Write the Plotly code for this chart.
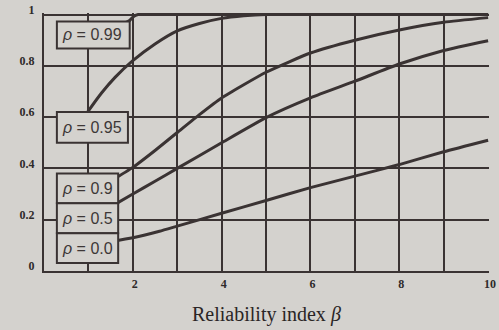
import plotly.graph_objects as go

# ---- data ----
beta_000 = [1.5, 2.0, 2.6, 3.0, 4.0, 5.0, 6.0, 7.0, 8.0, 9.0, 10.0]
rho_000 = [0.115, 0.13, 0.155, 0.175, 0.225, 0.275, 0.325, 0.37, 0.415, 0.465, 0.51]

beta_050 = [1.5, 2.0, 2.5, 3.0, 4.0, 5.0, 6.0, 7.0, 8.0, 9.0, 10.0]
rho_050 = [0.25, 0.30, 0.35, 0.40, 0.50, 0.598, 0.675, 0.74, 0.807, 0.86, 0.898]

beta_090 = [1.5, 2.0, 2.5, 3.0, 3.5, 4.0, 5.0, 6.0, 7.0, 8.0, 9.0, 10.0]
rho_090 = [0.35, 0.404, 0.47, 0.54, 0.61, 0.675, 0.775, 0.85, 0.90, 0.94, 0.97, 0.988]

beta_095 = [0.9, 1.0, 1.3, 1.6, 2.0, 2.5, 3.0, 3.5, 4.0, 4.5, 5.0, 6.0, 8.0, 10.0]
rho_095 = [0.598, 0.624, 0.695, 0.755, 0.82, 0.885, 0.936, 0.965, 0.985, 0.995, 1.0, 1.0, 1.0, 1.0]

beta_099 = [1.8, 1.93, 2.0, 2.12, 3.0, 5.0, 8.0, 10.0]
rho_099 = [0.965, 0.977, 0.99, 1.0, 1.0, 1.0, 1.0, 1.0]

labels = ["\u03c1 = 0.99", "\u03c1 = 0.95", "\u03c1 = 0.9", "\u03c1 = 0.5", "\u03c1 = 0.0"]
box_x0 = [0.29, 0.29, 0.29, 0.29, 0.29]
box_x1 = [1.93, 1.89, 1.67, 1.67, 1.67]
box_y0 = [0.868, 0.500, 0.264, 0.147, 0.031]
box_y1 = [0.973, 0.620, 0.380, 0.264, 0.147]

x_tickvals = [0, 1, 2, 3, 4, 5, 6, 7, 8, 9, 10]
x_ticktext = ["", "", "2", "", "4", "", "6", "", "8", "", "10"]
y_tickvals = [0, 0.2, 0.4, 0.6, 0.8, 1.0]
y_ticktext = ["0", "0.2", "0.4", "0.6", "0.8", "1"]

BG = "#d4d2ce"
INK = "#3a3333"

fig = go.Figure()
for bx, by in [(beta_000, rho_000), (beta_050, rho_050), (beta_090, rho_090),
               (beta_095, rho_095), (beta_099, rho_099)]:
    fig.add_trace(go.Scatter(x=bx, y=by, mode="lines",
                             line=dict(color=INK, width=3, shape="spline", smoothing=0.5),
                             showlegend=False, hoverinfo="skip"))

shapes = []
annotations = []
for lab, x0, x1, y0, y1 in zip(labels, box_x0, box_x1, box_y0, box_y1):
    shapes.append(dict(type="rect", xref="x", yref="y", x0=x0, x1=x1, y0=y0, y1=y1,
                       line=dict(color=INK, width=2), fillcolor=BG, layer="above"))
    rho, rest = lab.split(" = ")
    annotations.append(dict(xref="x", yref="y", x=x0 + 0.06, y=(y0 + y1) / 2,
                            xanchor="left", yanchor="middle", showarrow=False,
                            text="<i>" + rho + "</i> = " + rest,
                            font=dict(family="Liberation Sans", size=16, color="#3d3737")))

annotations.append(dict(xref="paper", yref="paper", x=0.5, y=-0.17,
                        xanchor="center", yanchor="middle", showarrow=False,
                        text="Reliability index <i>\u03b2</i>",
                        font=dict(family="Liberation Serif", size=20, color="#2a2525")))

fig.update_layout(
    width=499, height=330,
    margin=dict(l=44, r=3, t=11, b=59),
    paper_bgcolor=BG, plot_bgcolor=BG,
    shapes=shapes, annotations=annotations,
    showlegend=False,
)
fig.update_xaxes(range=[0, 10.02], tickvals=x_tickvals, ticktext=x_ticktext,
                 showgrid=True, gridcolor=INK, gridwidth=2,
                 showline=True, linecolor=INK, linewidth=2,
                 zeroline=False, ticks="", ticklabelstandoff=1, ticklabelshift=2,
                 ticklabeloverflow="allow",
                 tickfont=dict(family="Liberation Serif", size=12, color="#2e2a2a", weight="bold"))
fig.update_yaxes(range=[0, 1.006], tickvals=y_tickvals, ticktext=y_ticktext,
                 showgrid=True, gridcolor=INK, gridwidth=2,
                 showline=True, linecolor=INK, linewidth=2,
                 zeroline=False, ticks="", ticklabelstandoff=5, ticklabelshift=-5,
                 ticklabeloverflow="allow",
                 tickfont=dict(family="Liberation Serif", size=12, color="#2e2a2a", weight="bold"))

fig.write_html("out.html",
               config={"displayModeBar": False},
               post_script="document.body.style.margin='0';document.body.style.padding='0';"
                           "document.body.style.background='" + BG + "';"
                           "document.documentElement.style.overflow='hidden';")
